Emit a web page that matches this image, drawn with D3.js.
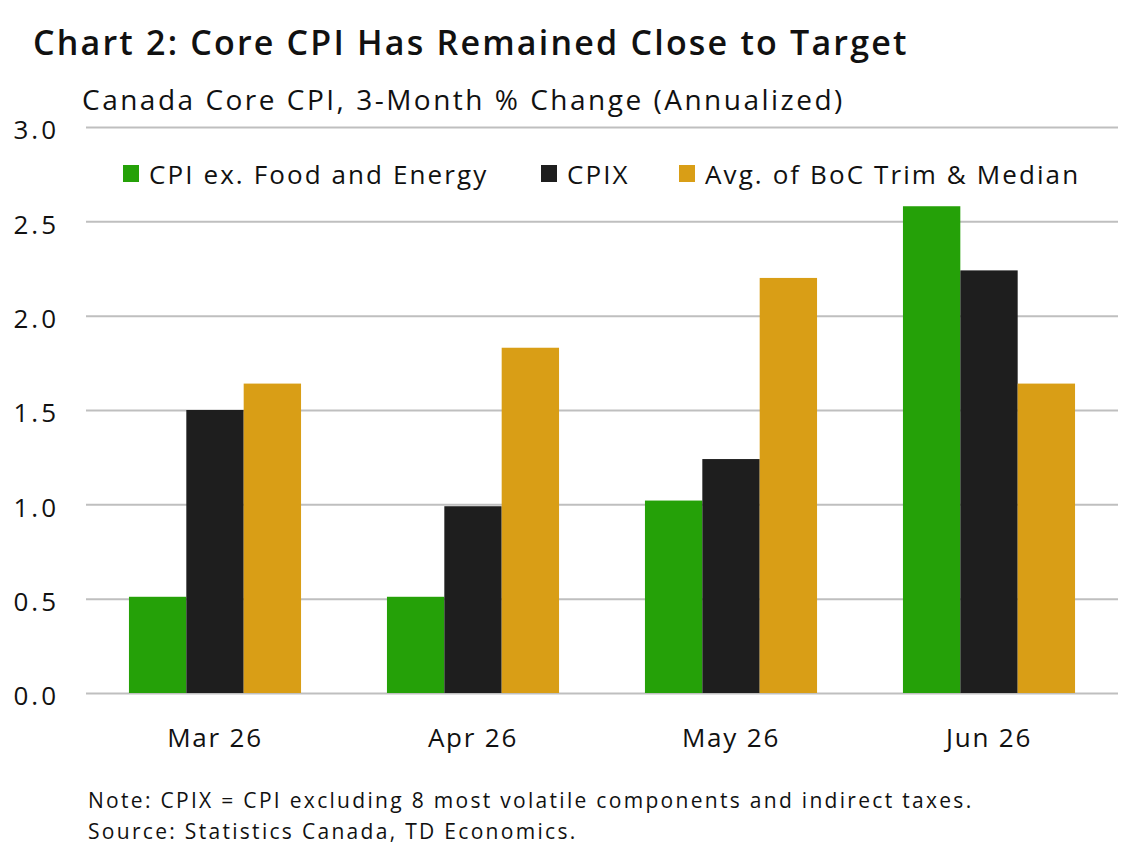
<!DOCTYPE html>
<html>
<head>
<meta charset="utf-8">
<script src="https://cdn.jsdelivr.net/npm/d3@7"></script>
<style>
  body { margin: 0; background: #fff; }
  svg text { font-family: "Open Sans", "Noto Sans", sans-serif; fill: #111; }
</style>
</head>
<body>
<div class="container"></div>
<script>
const months = ['Mar 26', 'Apr 26', 'May 26', 'Jun 26'];
const seriesNames = ['CPI ex. Food and Energy', 'CPIX', 'Avg. of BoC Trim & Median'];
const cpiExFoodEnergy = [0.51, 0.51, 1.02, 2.58];
const cpix = [1.50, 0.99, 1.24, 2.24];
const bocTrimMedian = [1.64, 1.83, 2.20, 1.64];
const yTicks = [0, 0.5, 1.0, 1.5, 2.0, 2.5, 3.0];
const colors = ['#25a108', '#1e1e1e', '#d99e16'];

const width = 1137,
    height = 849,
    margin = {top: 127, right: 19, bottom: 156, left: 86};

const seriesValues = [cpiExFoodEnergy, cpix, bocTrimMedian];

const svg = d3.select('.container')
    .append('svg')
    .attr('width', width)
    .attr('height', height);

const xScale = d3.scaleBand()
    .domain(months)
    .range([margin.left, width - margin.right])
    .paddingInner(0.333)
    .paddingOuter(0.1665);

const xInner = d3.scaleBand()
    .domain(seriesNames)
    .range([0, xScale.bandwidth()]);

const yScale = d3.scaleLinear()
    .domain([0, 3])
    .range([height - margin.bottom, margin.top]);

// gridlines + y labels
const yAxis = d3.axisLeft(yScale)
    .tickValues(yTicks)
    .tickFormat(d3.format('.1f'))
    .tickSize(-(width - margin.left - margin.right))
    .tickPadding(27);

svg.append('g')
    .attr('transform', `translate(${margin.left}, 0)`)
    .call(yAxis)
    .call(g => g.select('.domain').remove())
    .call(g => g.selectAll('.tick line').attr('stroke', '#bfbfbf').attr('stroke-width', 2))
    .call(g => g.selectAll('.tick text')
        .style('font-size', '26px')
        .style('letter-spacing', '3px')
        .attr('fill', '#111')
        .attr('dy', '0.45em'));

// bars
const groups = svg.append('g')
    .selectAll('g')
    .data(months)
    .join('g')
    .attr('transform', d => `translate(${xScale(d)}, 0)`);

groups.selectAll('rect')
    .data((m, i) => seriesNames.map((s, j) => ({series: s, value: seriesValues[j][i], j})))
    .join('rect')
    .attr('x', d => xInner(d.series))
    .attr('width', xInner.bandwidth())
    .attr('y', d => yScale(d.value))
    .attr('height', d => yScale(0) - yScale(d.value))
    .attr('fill', d => colors[d.j]);

// x labels
const xAxis = d3.axisBottom(xScale).tickSize(0).tickPadding(36);
svg.append('g')
    .attr('transform', `translate(0, ${height - margin.bottom})`)
    .call(xAxis)
    .call(g => g.select('.domain').remove())
    .call(g => g.selectAll('.tick text')
        .style('font-size', '26px')
        .style('letter-spacing', '1.8px')
        .attr('fill', '#111'));

// titles
svg.append('text')
    .attr('x', 33).attr('y', 55)
    .style('font-size', '34px').style('font-weight', 600)
    .style('letter-spacing', '2.2px')
    .text('Chart 2: Core CPI Has Remained Close to Target');

svg.append('text')
    .attr('x', 82).attr('y', 110)
    .style('font-size', '28px')
    .style('letter-spacing', '2.5px')
    .text('Canada Core CPI, 3-Month % Change (Annualized)');

// legend
const legendX = [123, 541, 679];
const legend = svg.append('g')
    .selectAll('g')
    .data(seriesNames)
    .join('g')
    .attr('transform', (d, i) => `translate(${legendX[i]}, 165)`);

legend.append('rect')
    .attr('width', 16).attr('height', 17)
    .attr('fill', (d, i) => colors[i]);

legend.append('text')
    .attr('x', 26).attr('y', 19)
    .style('font-size', '26px')
    .style('letter-spacing', '2.1px')
    .text(d => d);

// notes
const notes = ['Note: CPIX = CPI excluding 8 most volatile components and indirect taxes.',
    'Source: Statistics Canada, TD Economics.'];
svg.append('g')
    .selectAll('text')
    .data(notes)
    .join('text')
    .attr('x', 88)
    .attr('y', (d, i) => 808 + i * 31)
    .style('font-size', '21px')
    .style('letter-spacing', '2.3px')
    .text(d => d);
</script>
</body>
</html>
